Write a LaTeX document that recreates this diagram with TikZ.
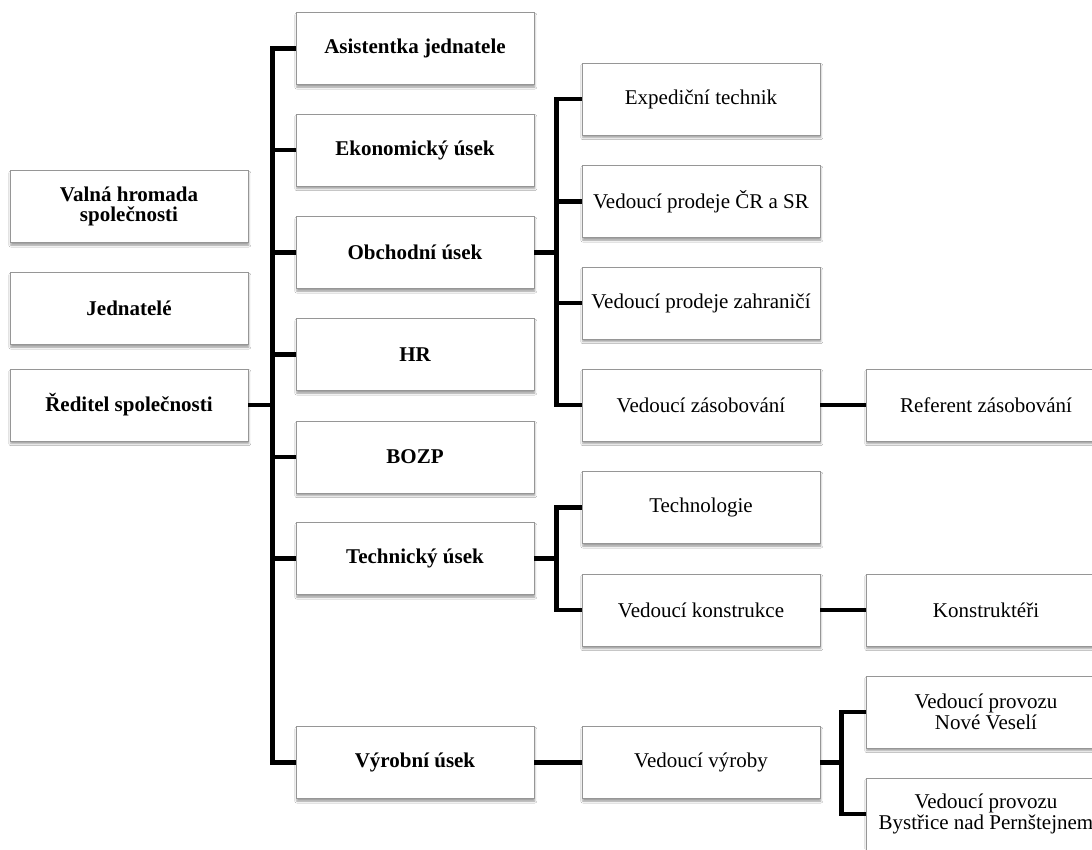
\documentclass[tikz,border=0pt]{standalone}
\usepackage{fontspec}
\setmainfont{Liberation Serif}
\usepackage{tikz}
\usetikzlibrary{positioning, shadows.blur, calc}
\definecolor{boxEdge}{RGB}{150,150,150}
\definecolor{linkBlack}{RGB}{0,0,0}
\tikzset{
    unit/.style={rectangle, draw=boxEdge, line width=0.9pt, fill=white,
                 blur shadow={shadow xshift=0.8pt, shadow yshift=-2.6pt, shadow blur radius=2pt, shadow opacity=40},
                 align=center, minimum width=#1, minimum height=72pt, inner sep=0pt,
                 font=\fontsize{21}{20.5}\selectfont},
    unit/.default=238pt,
    head/.style={unit, font=\fontsize{21}{20.5}\selectfont\bfseries},
    link/.style={line width=4.6pt, draw=linkBlack, line join=miter}
}
\begin{document}
\begin{tikzpicture}[x=1pt, y=-1pt]
    \useasboundingbox[fill=white] (0,0) rectangle (1092,849);
    % vedeni
    \foreach \nm/\lab/\y in {vh/{Valná hromada\\společnosti}/206.5, jed/Jednatelé/308.5, red/Ředitel společnosti/405} {
        \node[head] (\nm) at (129,\y) {\lab};
    }
    % useky
    \foreach \nm/\lab/\y in {asi/Asistentka jednatele/48.5, eko/Ekonomický úsek/150, obch/Obchodní úsek/252.5, hr/HR/354.5, bozp/BOZP/457, tech/Technický úsek/558.5, vyr/Výrobní úsek/762.5} {
        \node[head] (\nm) at (415,\y) {\lab};
    }
    % oddeleni
    \foreach \nm/\lab/\y in {exp/Expediční technik/99, prcr/Vedoucí prodeje ČR a SR/201.5, przah/Vedoucí prodeje zahraničí/303, zas/Vedoucí zásobování/405, techn/Technologie/507.5, kon/Vedoucí konstrukce/610, vvyr/Vedoucí výroby/762.5} {
        \node[unit] (\nm) at (701,\y) {\lab};
    }
    % pracovnici
    \foreach \nm/\lab/\y in {ref/Referent zásobování/405, konstr/Konstruktéři/610, nv/{Vedoucí provozu\\Nové Veselí}/712, byst/{Vedoucí provozu\\Bystřice nad Pernštejnem}/814} {
        \node[unit=240pt] (\nm) at (986,\y) {\lab};
    }
    % hlavni vetev
    \draw[link] (red.east) -- ++(25,0);
    \draw[link] (asi.west) -- ++(-23,0) |- (vyr.west);
    \foreach \nm in {eko, obch, hr, bozp, tech} {
        \draw[link] (\nm.west) -- ++(-23,0);
    }
    % obchod
    \draw[link] (obch.east) -- ++(23,0);
    \draw[link] (exp.west) -- ++(-25,0) |- (zas.west);
    \draw[link] (prcr.west) -- ++(-25,0);
    \draw[link] (przah.west) -- ++(-25,0);
    \draw[link] (zas.east) -- (ref.west);
    % technika
    \draw[link] (tech.east) -- ++(23,0);
    \draw[link] (techn.west) -- ++(-25,0) |- (kon.west);
    \draw[link] (kon.east) -- (konstr.west);
    % vyroba
    \draw[link] (vyr.east) -- (vvyr.west);
    \draw[link] (vvyr.east) -- ++(22,0);
    \draw[link] (nv.west) -- ++(-24,0) |- (byst.west);
\end{tikzpicture}
\end{document}
